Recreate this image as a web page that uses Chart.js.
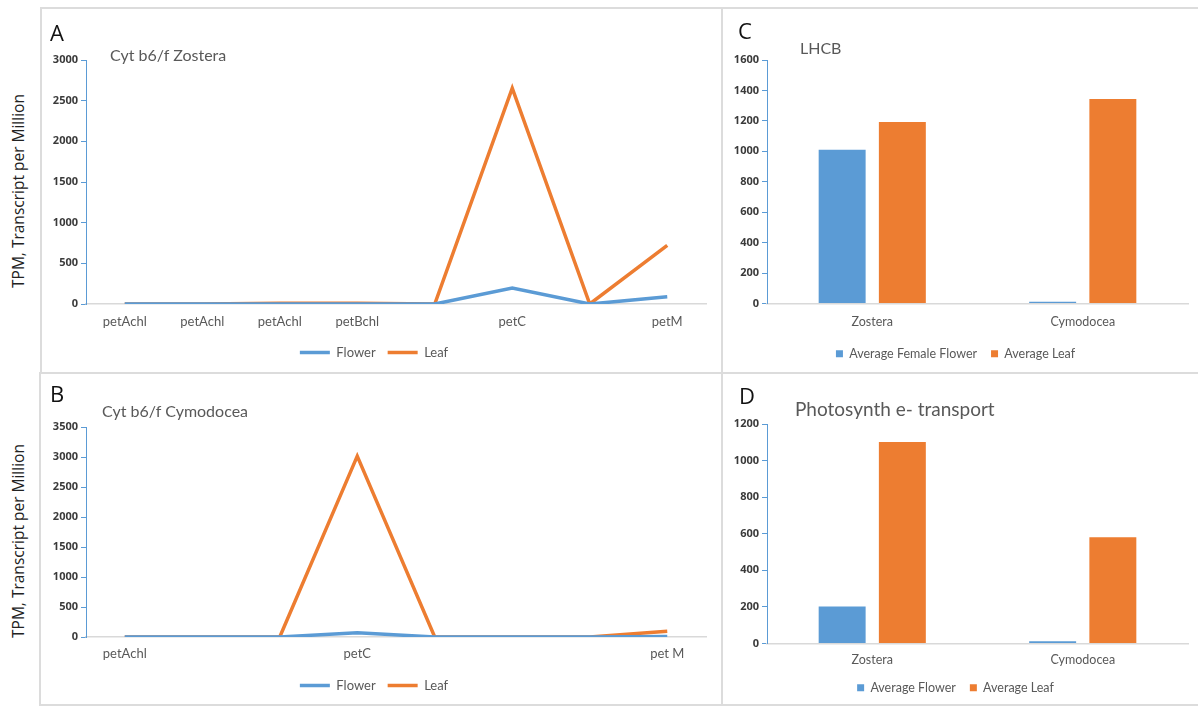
<!DOCTYPE html>
<html>
<head>
<meta charset="utf-8">
<script src="https://cdn.jsdelivr.net/npm/chart.js@4.4.1/dist/chart.umd.min.js"></script>
<style>
  html, body { margin: 0; padding: 0; background: #fff; }
  body { width: 1198px; height: 706px; position: relative; overflow: hidden; font-family: Lato, "Open Sans", sans-serif; }
  .box { position: absolute; border: 2px solid #dcdcdc; box-sizing: border-box; }
  .cv { position: absolute; }
  .letter { position: absolute; font-family: "Open Sans", sans-serif; font-size: 22px; color: #111; line-height: 1; }
  .ptitle { position: absolute; font-family: Lato, sans-serif; color: #595959; line-height: 1; white-space: nowrap; }
  .ytitle { position: absolute; font-family: "Open Sans", sans-serif; font-size: 15.5px; color: #222; white-space: nowrap;
            transform: translate(-50%, -50%) rotate(-90deg); line-height: 1; }
</style>
</head>
<body>
<div class="box" style="left:40px; top:7px; width:683px; height:367px;"></div>
<div class="box" style="left:39px; top:372px; width:684px; height:334px;"></div>
<div class="box" style="left:721px; top:7px; width:479px; height:367px;"></div>
<div class="box" style="left:721px; top:372px; width:479px; height:334px;"></div>

<div class="cv" style="left:42px; top:9px; width:678px; height:362px;"><canvas id="cA"></canvas></div>
<div class="cv" style="left:42px; top:374px; width:678px; height:330px;"><canvas id="cB"></canvas></div>
<div class="cv" style="left:723px; top:9px; width:475px; height:362px;"><canvas id="cC"></canvas></div>
<div class="cv" style="left:723px; top:374px; width:475px; height:330px;"><canvas id="cD"></canvas></div>

<div class="letter" style="left:50px; top:21px;">A</div>
<div class="letter" style="left:50px; top:382px;">B</div>
<div class="letter" style="left:738px; top:19px;">C</div>
<div class="letter" style="left:739px; top:384px;">D</div>

<div class="ptitle" style="left:110px; top:47px; font-size:16px;">Cyt b6/f Zostera</div>
<div class="ptitle" style="left:102px; top:403px; font-size:16px;">Cyt b6/f Cymodocea</div>
<div class="ptitle" style="left:800px; top:40px; font-size:16px;">LHCB</div>
<div class="ptitle" style="left:795px; top:399px; font-size:19px;">Photosynth e- transport</div>

<div class="ytitle" style="left:19px; top:191px;">TPM, Transcript per Million</div>
<div class="ytitle" style="left:19px; top:541px;">TPM, Transcript per Million</div>

<script>
// ---- Data ----
const seriesNames = ['Flower', 'Leaf'];

const zosteraGenes = ['petAchl', 'petAchl', 'petAchl', 'petBchl', '', 'petC', '', 'petM'];
const zosteraFlower = [0, 0, 0, 0, 0, 195, 0, 88];
const zosteraLeaf = [0, 0, 8, 8, 0, 2655, 0, 720];
const zosteraTicks = [0, 500, 1000, 1500, 2000, 2500, 3000];

const cymodoceaGenes = ['petAchl', '', '', 'petC', '', '', '', 'pet M'];
const cymodoceaFlower = [0, 0, 0, 72, 0, 0, 0, 8];
const cymodoceaLeaf = [0, 0, 0, 3015, 0, 0, 0, 95];
const cymodoceaTicks = [0, 500, 1000, 1500, 2000, 2500, 3000, 3500];

const species = ['Zostera', 'Cymodocea'];
const lhcbNames = ['Average Female Flower', 'Average Leaf'];
const lhcbFlower = [1010, 12];
const lhcbLeaf = [1193, 1343];
const lhcbTicks = [0, 200, 400, 600, 800, 1000, 1200, 1400, 1600];

const etNames = ['Average Flower', 'Average Leaf'];
const etFlower = [202, 12];
const etLeaf = [1102, 581];
const etTicks = [0, 200, 400, 600, 800, 1000, 1200];

// ---- Style ----
const BLUE = '#5B9BD5';
const ORANGE = '#ED7D31';
const TXT = '#595959';
Chart.defaults.font.family = 'Lato, "Open Sans", sans-serif';
Chart.defaults.color = TXT;
Chart.defaults.animation = false;

function yScale(ticks, axisWidth) {
  return {
    min: ticks[0], max: ticks[ticks.length - 1],
    afterBuildTicks: s => { s.ticks = ticks.map(v => ({ value: v })); },
    afterFit: s => { s.width = axisWidth; },
    grid: { drawOnChartArea: false, drawTicks: true, tickLength: 5, color: BLUE, lineWidth: 1 },
    border: { display: true, color: BLUE, width: 1 },
    ticks: { color: '#3a3a3a', font: { family: '"Open Sans", sans-serif', size: 11, weight: 'bold' }, padding: 3, callback: v => String(v) }
  };
}
function xScale(labels, h, pad, fs) {
  return {
    type: 'category', labels: labels, offset: true,
    afterFit: s => { s.height = h; },
    grid: { display: false, drawTicks: false },
    border: { display: true, color: '#d9d9d9', width: 1.5 },
    ticks: { autoSkip: false, maxRotation: 0, color: TXT, font: { size: fs }, padding: pad }
  };
}

function lineChart(id, labels, flower, leaf, ticks, pad, xh, xpad) {
  new Chart(document.getElementById(id), {
    type: 'line',
    data: {
      labels: labels,
      datasets: [
        { label: seriesNames[0], data: flower, borderColor: BLUE, backgroundColor: BLUE, borderWidth: 3.5, pointRadius: 0, tension: 0, pointStyle: 'line' },
        { label: seriesNames[1], data: leaf, borderColor: ORANGE, backgroundColor: ORANGE, borderWidth: 3.5, pointRadius: 0, tension: 0, pointStyle: 'line' }
      ]
    },
    options: {
      responsive: true, maintainAspectRatio: false,
      layout: { padding: pad },
      plugins: {
        legend: { position: 'bottom', labels: { usePointStyle: true, pointStyleWidth: 30, font: { size: 13 }, color: TXT, padding: 12 } },
        tooltip: { enabled: false }
      },
      scales: { x: xScale(labels, xh, xpad, 13), y: yScale(ticks, 44) }
    }
  });
}

function barChart(id, names, flower, leaf, ticks, pad, xh, xpad) {
  new Chart(document.getElementById(id), {
    type: 'bar',
    data: {
      labels: species,
      datasets: [
        { label: names[0], data: flower, backgroundColor: BLUE, categoryPercentage: 0.572, barPercentage: 0.78 },
        { label: names[1], data: leaf, backgroundColor: ORANGE, categoryPercentage: 0.572, barPercentage: 0.78 }
      ]
    },
    options: {
      responsive: true, maintainAspectRatio: false,
      layout: { padding: pad },
      plugins: {
        legend: { position: 'bottom', labels: { boxWidth: 7, boxHeight: 7, font: { size: 12.5 }, color: TXT, padding: 14 } },
        tooltip: { enabled: false }
      },
      scales: { x: xScale(species, xh, xpad, 12.5), y: yScale(ticks, 44) }
    }
  });
}

lineChart('cA', zosteraGenes, zosteraFlower, zosteraLeaf, zosteraTicks, { top: 51, right: 14, bottom: 2, left: 0 }, 30, 10);
lineChart('cB', cymodoceaGenes, cymodoceaFlower, cymodoceaLeaf, cymodoceaTicks, { top: 53, right: 14, bottom: 2, left: 0 }, 30, 9);
barChart('cC', lhcbNames, lhcbFlower, lhcbLeaf, lhcbTicks, { top: 51, right: 10, bottom: 1, left: 0 }, 30, 11);
barChart('cD', etNames, etFlower, etLeaf, etTicks, { top: 50, right: 10, bottom: 0, left: 0 }, 24, 9);
</script>
</body>
</html>
